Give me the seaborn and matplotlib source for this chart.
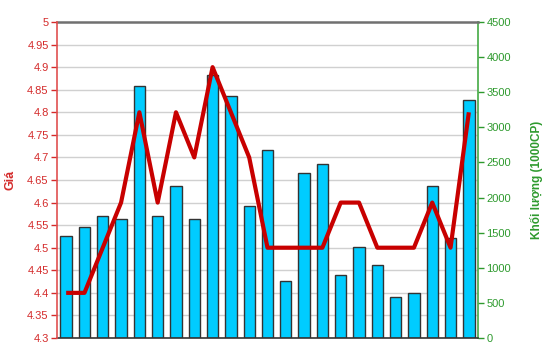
import numpy as np
import pandas as pd
import matplotlib
matplotlib.use("Agg")
import matplotlib.pyplot as plt
from matplotlib.ticker import FuncFormatter
import seaborn as sns

sessions = [str(i) for i in range(1, 24)]
volume = [1453, 1585, 1742, 1690, 3593, 1742, 2165, 1690, 3750, 3451, 1884, 2673,
          807, 2354, 2473, 902, 1300, 1044, 579, 645, 2160, 1424, 3385]
price = [4.4, 4.4, 4.5, 4.6, 4.8, 4.6, 4.8, 4.7, 4.9, 4.8, 4.7, 4.5,
         4.5, 4.5, 4.5, 4.6, 4.6, 4.5, 4.5, 4.5, 4.6, 4.5, 4.8]
price_ticks = [4.3, 4.35, 4.4, 4.45, 4.5, 4.55, 4.6, 4.65, 4.7, 4.75, 4.8, 4.85, 4.9, 4.95, 5.0]
volume_ticks = [0, 500, 1000, 1500, 2000, 2500, 3000, 3500, 4000, 4500]

sns.set_style("white")
plt.rcParams['font.family'] = ['Liberation Sans', 'DejaVu Sans']

RED = "#d42a2a"
GREEN = "#2e9a2e"
df = pd.DataFrame({"session": sessions, "volume": volume, "price": price,
                   "idx": np.arange(len(sessions))})

fig = plt.figure(figsize=(5.5, 3.64), dpi=100)
ax_p = fig.add_axes([57/550, 1-338/364, (478-57)/550, (338-22)/364])
ax_v = ax_p.twinx()

# bars on volume axis (behind)
sns.barplot(data=df, x="session", y="volume", ax=ax_v, color="#00ccff",
            saturation=1, width=0.62, edgecolor="#333333", linewidth=1.0, zorder=2)
ax_v.set_ylim(0, 4500)
ax_v.set_yticks(volume_ticks)
ax_v.set_yticks(np.linspace(0, 4500, 15), minor=True)
ax_v.yaxis.set_major_formatter(FuncFormatter(lambda v, p: f"{int(v)}"))
ax_v.grid(axis="y", which="minor", color="#d0d0d0", linewidth=1.0)
ax_v.set_axisbelow(True)
ax_v.tick_params(axis="y", which="major", colors=GREEN, length=4, width=1, labelsize=8,
                 direction="out", pad=2)
ax_v.tick_params(axis="y", which="minor", length=0)
ax_v.set_ylabel("Khối lượng (1000CP)", color=GREEN, fontweight="bold", fontsize=8.5,
                labelpad=14)
ax_v.set_xlabel("")

# price line on top
ax_p.set_zorder(ax_v.get_zorder() + 1)
ax_p.patch.set_visible(False)
sns.lineplot(data=df, x="idx", y="price", ax=ax_p, color="#c80000", linewidth=3,
             solid_joinstyle="round", solid_capstyle="butt")
ax_p.set_ylim(4.3, 5.0)
ax_p.set_yticks(price_ticks)
ax_p.yaxis.set_major_formatter(FuncFormatter(lambda v, p: f"{v:g}"))
ax_p.tick_params(axis="y", colors=RED, length=4, width=1, labelsize=8, direction="out", pad=2)
ax_p.set_ylabel("Giá", color=RED, fontweight="bold", fontsize=9, labelpad=8)
ax_p.set_xlabel("")
ax_p.set_xlim(-0.5, len(sessions) - 0.5)
ax_p.set_xticks([])
ax_v.set_xticks([])

for ax in (ax_p, ax_v):
    for s in ax.spines.values():
        s.set_visible(False)
ax_p.spines["left"].set_visible(True)
ax_p.spines["left"].set_color("#e05050")
ax_p.spines["left"].set_linewidth(1.2)
ax_v.spines["right"].set_visible(True)
ax_v.spines["right"].set_color("#44aa44")
ax_v.spines["right"].set_linewidth(1.2)
ax_v.spines["top"].set_visible(True)
ax_v.spines["top"].set_color("#707070")
ax_v.spines["top"].set_linewidth(1.8)
ax_v.spines["bottom"].set_visible(True)
ax_v.spines["bottom"].set_color("#333333")
ax_v.spines["bottom"].set_linewidth(1.2)

fig.savefig("out.png", dpi=100)
